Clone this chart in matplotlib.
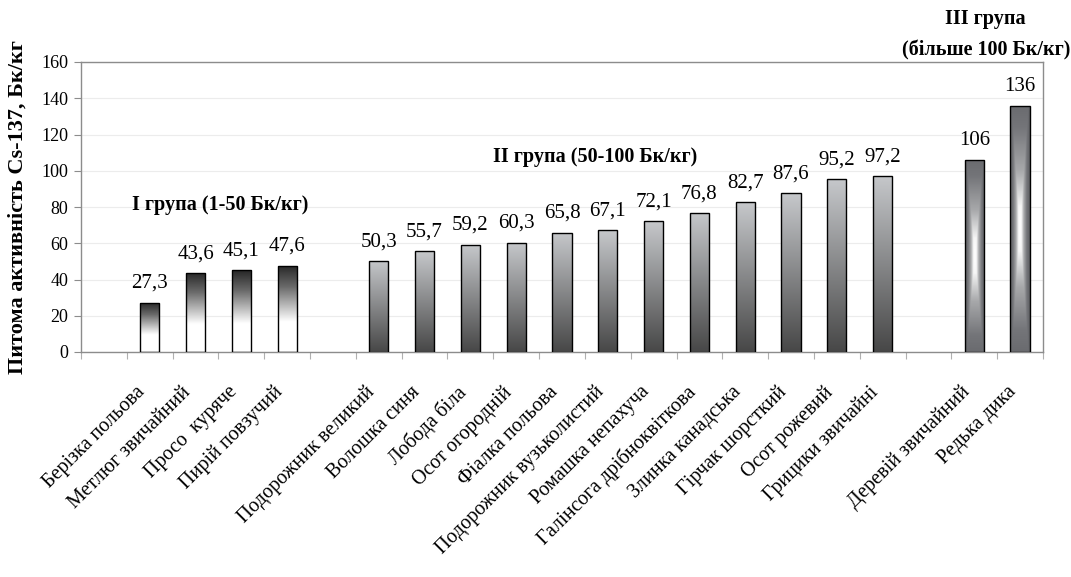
import numpy as np
import matplotlib
matplotlib.use("Agg")
import matplotlib.pyplot as plt
from matplotlib.colors import LinearSegmentedColormap

# ---- data ----
group1_names = ["Берізка польова", "Метлюг звичайний", "Просо  куряче", "Пирій повзучий"]
group1_values = [27.3, 43.6, 45.1, 47.6]
group2_names = ["Подорожник великий", "Волошка синя", "Лобода біла", "Осот огородній",
                "Фіалка польова", "Подорожник вузьколистий", "Ромашка непахуча",
                "Галінсога дрібноквіткова", "Злинка канадська", "Гірчак шорсткий",
                "Осот рожевий", "Грицики звичайні"]
group2_values = [50.3, 55.7, 59.2, 60.3, 65.8, 67.1, 72.1, 76.8, 82.7, 87.6, 95.2, 97.2]
group3_names = ["Деревій звичайний", "Редька дика"]
group3_values = [106, 136]
group_titles = ["I група (1-50 Бк/кг)", "II група (50-100 Бк/кг)", "III група\n(більше 100 Бк/кг)"]
y_label = "Питома активність Cs-137, Бк/кг"
y_ticks = [0, 20, 40, 60, 80, 100, 120, 140, 160]

plt.rcParams['font.family'] = ['Liberation Serif', 'DejaVu Serif']

# slot layout: empty slot, group1, empty, group2, empty, group3
pos1 = np.arange(1, 1 + len(group1_values))
pos2 = np.arange(pos1[-1] + 2, pos1[-1] + 2 + len(group2_values))
pos3 = np.arange(pos2[-1] + 2, pos2[-1] + 2 + len(group3_values))
n_slots = pos3[-1] + 1

fig = plt.figure(figsize=(10.71, 5.77), dpi=100)
ax = fig.add_axes([81/1071, 1-352/577, (1043-81)/1071, (352-62)/577])
ax.set_xlim(-0.5, n_slots - 0.5)
ax.set_ylim(0, 160)

bw = 0.42
cmap1 = LinearSegmentedColormap.from_list("g1", [(0, "#ffffff"), (0.35, "#ffffff"), (0.75, "#6a6a6a"), (1, "#262626")])
cmap2 = LinearSegmentedColormap.from_list("g2", [(0, "#474747"), (1, "#c6c8cb")])
cmap3 = LinearSegmentedColormap.from_list("g3", [(0, "#ffffff"), (0.15, "#f6f6f6"), (0.4, "#a8a9ab"),
                                                 (0.7, "#747579"), (1, "#606165")])

def draw_group(pos, vals, kind):
    bars = ax.bar(pos, vals, width=bw, facecolor="none", edgecolor="black", linewidth=1.0, zorder=3)
    for b in bars:
        x0, w, h = b.get_x(), b.get_width(), b.get_height()
        if kind in (1, 2):
            g = np.linspace(0, 1, 256).reshape(-1, 1)
            img = ax.imshow(g, cmap=cmap1 if kind == 1 else cmap2, aspect="auto", origin="lower",
                            extent=[x0, x0 + w, 0, h], zorder=2, vmin=0, vmax=1)
        else:
            yy, xx = np.mgrid[-1:1:400j, -1:1:60j]
            t = np.maximum(np.abs(xx), 0.85 * np.abs(yy))
            img = ax.imshow(t, cmap=cmap3, aspect="auto", origin="lower",
                            extent=[x0, x0 + w, 0, h], zorder=2, vmin=0, vmax=1)
        img.set_clip_path(b)
    for p, v in zip(pos, vals):
        s = (f"{v:.1f}".replace(".", ",")) if v != int(v) else f"{int(v)}"
        ax.annotate(s, (p, v), xytext=(0, 7), textcoords="offset points",
                    ha="center", va="bottom", fontsize=15)

draw_group(pos1, group1_values, 1)
draw_group(pos2, group2_values, 2)
draw_group(pos3, group3_values, 3)

# axes styling
for s in ax.spines.values():
    s.set_color("#8c8c8c")
    s.set_linewidth(1.0)
ax.set_yticks(y_ticks)
ax.set_yticklabels([str(t) for t in y_ticks], fontsize=13)
ax.yaxis.grid(True, color="#ececec", linewidth=0.8, zorder=0)
ax.set_axisbelow(True)
ax.tick_params(axis="y", direction="out", length=5, color="#8c8c8c", pad=4)

ax.set_xticks(np.arange(-0.5, n_slots, 1.0))
ax.set_xticklabels([])
ax.tick_params(axis="x", which="major", direction="out", length=5, color="#b0b0b0")
ax.set_xticks(np.concatenate([pos1, pos2, pos3]), minor=True)
labels = group1_names + group2_names + group3_names
ax.set_xticklabels(labels, minor=True, rotation=45, ha="right", va="top",
                   rotation_mode="anchor", fontsize=14.5)
ax.tick_params(axis="x", which="minor", length=0, pad=22)
for lbl in ax.get_xticklabels(minor=True):
    lbl.set_transform(lbl.get_transform() + matplotlib.transforms.ScaledTranslation(-10/72, 0, fig.dpi_scale_trans))

ax.set_ylabel(y_label, fontsize=16, fontweight="bold")
ax.yaxis.set_label_coords(-0.0655 + 10/962, 0.5)

ax.text(2.53, 81, group_titles[0], ha="center", va="center", fontsize=14.5, fontweight="bold")
ax.text(10.72, 107.5, group_titles[1], ha="center", va="center", fontsize=14.5, fontweight="bold")
ax.text(19.25, 175, group_titles[2], ha="center", va="center", fontsize=14.5, fontweight="bold",
        linespacing=1.75, clip_on=False)

fig.savefig("out.png", dpi=100)
